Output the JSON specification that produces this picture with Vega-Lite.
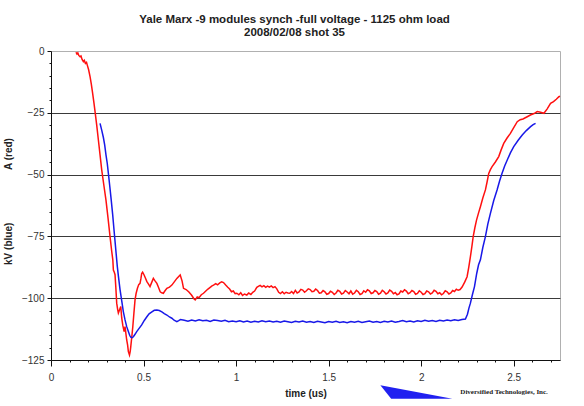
{
  "$schema": "https://vega.github.io/schema/vega-lite/v6.json",
  "autosize": "none",
  "width": 509,
  "height": 309,
  "padding": {"left": 51, "top": 51, "right": 24, "bottom": 46},
  "background": "white",
  "config": {
    "font": "Liberation Sans",
    "view": {"stroke": "#b0b0b0", "strokeWidth": 1},
    "axis": {"labelFont": "Liberation Sans", "titleFont": "Liberation Sans"}
  },
  "title": {
    "text": ["Yale Marx -9 modules synch -full voltage - 1125 ohm load", "2008/02/08 shot 35"],
    "fontSize": 11.5,
    "fontWeight": "bold",
    "color": "#222",
    "lineHeight": 13,
    "offset": 8,
    "anchor": "middle",
    "dx": -11
  },
  "datasets": {
    "red": [
      {"t":0.135,"v":-0.5},{"t":0.14,"v":-1.2},{"t":0.145,"v":-0.8},{"t":0.15,"v":-1.8},{"t":0.157,"v":-2.3},{"t":0.162,"v":-2.0},{"t":0.168,"v":-3.4},{"t":0.175,"v":-4.3},{"t":0.18,"v":-3.8},{"t":0.186,"v":-5.0},{"t":0.192,"v":-4.6},{"t":0.196,"v":-5.7},{"t":0.203,"v":-7.5},{"t":0.211,"v":-10.4},{"t":0.218,"v":-13.5},{"t":0.225,"v":-17.1},{"t":0.232,"v":-21},{"t":0.238,"v":-24.5},{"t":0.247,"v":-30},{"t":0.256,"v":-36},{"t":0.265,"v":-42},{"t":0.274,"v":-48.1},{"t":0.285,"v":-54},{"t":0.297,"v":-60.3},{"t":0.308,"v":-67.5},{"t":0.319,"v":-75.1},{"t":0.328,"v":-81},{"t":0.334,"v":-84.5},{"t":0.337,"v":-88.6},{"t":0.342,"v":-89.5},{"t":0.346,"v":-90.5},{"t":0.35,"v":-95.3},{"t":0.355,"v":-102},{"t":0.36,"v":-104.5},{"t":0.364,"v":-106},{"t":0.37,"v":-104.8},{"t":0.377,"v":-103.4},{"t":0.382,"v":-108},{"t":0.388,"v":-111},{"t":0.395,"v":-113.5},{"t":0.4,"v":-111.5},{"t":0.405,"v":-114.5},{"t":0.409,"v":-116.9},{"t":0.414,"v":-119},{"t":0.418,"v":-121.6},{"t":0.424,"v":-123},{"t":0.428,"v":-121.5},{"t":0.431,"v":-119.6},{"t":0.436,"v":-116},{"t":0.442,"v":-111.5},{"t":0.448,"v":-106},{"t":0.454,"v":-100.7},{"t":0.46,"v":-98},{"t":0.467,"v":-96},{"t":0.474,"v":-94.5},{"t":0.481,"v":-94},{"t":0.486,"v":-92},{"t":0.49,"v":-90},{"t":0.495,"v":-89.5},{"t":0.503,"v":-90.6},{"t":0.51,"v":-91.8},{"t":0.518,"v":-93.3},{"t":0.526,"v":-94.2},{"t":0.535,"v":-95.3},{"t":0.543,"v":-93.8},{"t":0.553,"v":-92},{"t":0.562,"v":-93},{"t":0.572,"v":-94},{"t":0.58,"v":-95.5},{"t":0.59,"v":-97.4},{"t":0.598,"v":-97.8},{"t":0.607,"v":-98},{"t":0.616,"v":-97},{"t":0.626,"v":-96},{"t":0.64,"v":-95.5},{"t":0.653,"v":-94.7},{"t":0.665,"v":-93.5},{"t":0.68,"v":-92},{"t":0.69,"v":-91.2},{"t":0.698,"v":-90.6},{"t":0.708,"v":-93},{"t":0.716,"v":-96},{"t":0.73,"v":-96.5},{"t":0.745,"v":-97.5},{"t":0.76,"v":-98.8},{"t":0.772,"v":-100.2},{"t":0.779,"v":-100.7},{"t":0.79,"v":-99.5},{"t":0.8,"v":-99.8},{"t":0.812,"v":-98.6},{"t":0.824,"v":-98},{"t":0.835,"v":-97.2},{"t":0.848,"v":-96.3},{"t":0.86,"v":-95.6},{"t":0.87,"v":-95},{"t":0.878,"v":-94.7},{"t":0.89,"v":-94.1},{"t":0.9,"v":-94.6},{"t":0.912,"v":-93.8},{"t":0.922,"v":-93.4},{"t":0.932,"v":-93.7},{"t":0.945,"v":-94.8},{"t":0.955,"v":-95.6},{"t":0.965,"v":-96.3},{"t":0.975,"v":-97.4},{"t":0.985,"v":-97.1},{"t":0.995,"v":-98.2},{"t":1.004,"v":-98},{"t":1.015,"v":-98.6},{"t":1.025,"v":-97.8},{"t":1.035,"v":-98.9},{"t":1.045,"v":-98.3},{"t":1.058,"v":-98.7},{"t":1.068,"v":-97.9},{"t":1.08,"v":-98.5},{"t":1.09,"v":-97.6},{"t":1.1,"v":-97.1},{"t":1.112,"v":-95.6},{"t":1.12,"v":-95.2},{"t":1.13,"v":-94.8},{"t":1.14,"v":-95.4},{"t":1.15,"v":-94.9},{"t":1.16,"v":-95.6},{"t":1.17,"v":-95.1},{"t":1.18,"v":-95.5},{"t":1.19,"v":-95},{"t":1.2,"v":-95.7},{"t":1.21,"v":-95.3},{"t":1.22,"v":-96.2},{"t":1.23,"v":-97.6},{"t":1.24,"v":-98.1},{"t":1.25,"v":-97.4},{"t":1.26,"v":-98.2},{"t":1.27,"v":-97.6},{"t":1.28,"v":-97.9},
      {"t":1.29,"v":-98.0},{"t":1.30,"v":-97.3},{"t":1.31,"v":-98.1},{"t":1.32,"v":-96.8},{"t":1.33,"v":-97.9},{"t":1.34,"v":-97.5},{"t":1.35,"v":-96.4},{"t":1.36,"v":-96.7},{"t":1.37,"v":-97.6},{"t":1.38,"v":-97.0},{"t":1.39,"v":-96.2},{"t":1.40,"v":-96.5},{"t":1.41,"v":-97.4},{"t":1.42,"v":-97.2},{"t":1.43,"v":-96.3},{"t":1.44,"v":-96.9},{"t":1.45,"v":-98.0},{"t":1.46,"v":-97.8},{"t":1.47,"v":-96.9},{"t":1.48,"v":-97.4},{"t":1.49,"v":-98.4},{"t":1.50,"v":-98.1},{"t":1.51,"v":-97.2},{"t":1.52,"v":-97.6},{"t":1.53,"v":-98.5},{"t":1.54,"v":-97.9},{"t":1.55,"v":-96.8},{"t":1.56,"v":-97.2},{"t":1.57,"v":-98.3},{"t":1.58,"v":-98.0},{"t":1.59,"v":-96.9},{"t":1.60,"v":-97.5},{"t":1.61,"v":-98.2},{"t":1.62,"v":-97.1},{"t":1.63,"v":-98.4},{"t":1.64,"v":-97.9},{"t":1.65,"v":-96.8},{"t":1.66,"v":-97.4},{"t":1.67,"v":-98.5},{"t":1.68,"v":-98.2},{"t":1.69,"v":-97.0},{"t":1.70,"v":-97.6},{"t":1.71,"v":-96.6},{"t":1.72,"v":-97.0},{"t":1.73,"v":-98.1},{"t":1.74,"v":-97.8},{"t":1.75,"v":-96.9},{"t":1.76,"v":-97.3},{"t":1.77,"v":-98.4},{"t":1.78,"v":-98.0},{"t":1.79,"v":-96.8},{"t":1.80,"v":-97.4},{"t":1.81,"v":-98.3},{"t":1.82,"v":-97.9},{"t":1.83,"v":-96.7},{"t":1.84,"v":-97.2},{"t":1.85,"v":-98.2},{"t":1.86,"v":-97.7},{"t":1.87,"v":-98.6},{"t":1.88,"v":-98.3},{"t":1.89,"v":-97.1},{"t":1.90,"v":-97.5},{"t":1.91,"v":-96.6},{"t":1.92,"v":-97.1},{"t":1.93,"v":-98.2},{"t":1.94,"v":-97.8},{"t":1.95,"v":-96.9},{"t":1.96,"v":-97.3},{"t":1.97,"v":-98.4},{"t":1.98,"v":-98.1},{"t":1.99,"v":-97.0},{"t":2.00,"v":-97.6},{"t":2.01,"v":-98.5},{"t":2.02,"v":-98.2},{"t":2.03,"v":-97.1},{"t":2.04,"v":-97.4},{"t":2.05,"v":-98.3},{"t":2.06,"v":-97.9},{"t":2.07,"v":-96.8},{"t":2.08,"v":-97.2},{"t":2.09,"v":-98.2},{"t":2.10,"v":-97.8},{"t":2.11,"v":-98.6},{"t":2.12,"v":-98.1},{"t":2.13,"v":-97.0},{"t":2.14,"v":-97.4},{"t":2.15,"v":-98.3},{"t":2.16,"v":-97.9},{"t":2.17,"v":-96.9},{"t":2.18,"v":-97.3},{"t":2.19,"v":-96.4},{"t":2.20,"v":-96.8},{"t":2.21,"v":-96.5},
      {"t":2.221,"v":-95.5},{"t":2.235,"v":-93.5},{"t":2.248,"v":-91.3},{"t":2.257,"v":-87.5},{"t":2.266,"v":-83.2},{"t":2.274,"v":-79},{"t":2.281,"v":-75.1},{"t":2.29,"v":-71.5},{"t":2.299,"v":-68.4},{"t":2.31,"v":-65.5},{"t":2.32,"v":-63},{"t":2.333,"v":-59.5},{"t":2.347,"v":-56.2},{"t":2.356,"v":-53},{"t":2.365,"v":-49.5},{"t":2.374,"v":-48},{"t":2.383,"v":-46.8},{"t":2.4,"v":-45},{"t":2.419,"v":-42.7},{"t":2.432,"v":-40},{"t":2.446,"v":-37.4},{"t":2.464,"v":-35.2},{"t":2.482,"v":-33.3},{"t":2.5,"v":-31},{"t":2.519,"v":-28.6},{"t":2.535,"v":-27.8},{"t":2.55,"v":-27.5},{"t":2.573,"v":-26.6},{"t":2.59,"v":-25.9},{"t":2.61,"v":-25.3},{"t":2.627,"v":-24.5},{"t":2.645,"v":-24.8},{"t":2.663,"v":-25.2},{"t":2.68,"v":-23.5},{"t":2.699,"v":-21.2},{"t":2.715,"v":-20.5},{"t":2.73,"v":-19.5},{"t":2.744,"v":-18.5},{"t":2.75,"v":-18.3}
    ],
    "blue": [
      {"t":0.265,"v":-29.3},{"t":0.274,"v":-32},{"t":0.283,"v":-35},{"t":0.29,"v":-38},{"t":0.297,"v":-42},{"t":0.304,"v":-45.5},{"t":0.31,"v":-49.5},{"t":0.318,"v":-55},{"t":0.325,"v":-60},{"t":0.333,"v":-66},{"t":0.34,"v":-72},{"t":0.346,"v":-77},{"t":0.352,"v":-82},{"t":0.358,"v":-87},{"t":0.364,"v":-91},{"t":0.373,"v":-96.5},{"t":0.382,"v":-101},{"t":0.391,"v":-105.5},{"t":0.4,"v":-108.8},{"t":0.409,"v":-111.5},{"t":0.418,"v":-113.5},{"t":0.425,"v":-115},{"t":0.431,"v":-115.8},{"t":0.438,"v":-116},{"t":0.445,"v":-115.6},{"t":0.454,"v":-114.6},{"t":0.463,"v":-113.5},{"t":0.476,"v":-112.2},{"t":0.49,"v":-110.8},{"t":0.504,"v":-109},{"t":0.518,"v":-107.5},{"t":0.53,"v":-106.3},{"t":0.545,"v":-105.5},{"t":0.558,"v":-104.9},{"t":0.572,"v":-104.8},{"t":0.585,"v":-105},{"t":0.599,"v":-105.5},{"t":0.612,"v":-106.2},{"t":0.626,"v":-106.8},{"t":0.64,"v":-107.6},{"t":0.653,"v":-108.1},{"t":0.665,"v":-108.9},{"t":0.68,"v":-109.5},{"t":0.69,"v":-109.1},{"t":0.70,"v":-108.6},{"t":0.72,"v":-108.9},{"t":0.74,"v":-109.3},{"t":0.76,"v":-108.8},{"t":0.78,"v":-109.2},{"t":0.80,"v":-108.7},{"t":0.82,"v":-109.1},{"t":0.84,"v":-108.9},{"t":0.86,"v":-109.4},{"t":0.88,"v":-108.8},{"t":0.90,"v":-109.0},{"t":0.92,"v":-109.3},{"t":0.94,"v":-108.9},{"t":0.96,"v":-109.5},{"t":0.98,"v":-109.2},{"t":1.00,"v":-109.5},{"t":1.02,"v":-109.1},{"t":1.04,"v":-109.6},{"t":1.06,"v":-109.2},{"t":1.08,"v":-109.7},{"t":1.10,"v":-109.3},{"t":1.12,"v":-109.6},{"t":1.14,"v":-109.1},{"t":1.16,"v":-109.5},{"t":1.18,"v":-109.2},{"t":1.20,"v":-109.6},{"t":1.22,"v":-109.3},{"t":1.24,"v":-109.7},{"t":1.26,"v":-109.2},{"t":1.28,"v":-109.5},{"t":1.30,"v":-109.8},{"t":1.32,"v":-109.3},{"t":1.34,"v":-109.6},{"t":1.36,"v":-109.2},{"t":1.38,"v":-109.7},{"t":1.40,"v":-109.4},{"t":1.42,"v":-109.8},{"t":1.44,"v":-109.3},{"t":1.46,"v":-109.6},{"t":1.48,"v":-109.9},{"t":1.50,"v":-109.4},{"t":1.52,"v":-109.7},{"t":1.54,"v":-109.3},{"t":1.56,"v":-109.8},{"t":1.58,"v":-109.5},{"t":1.60,"v":-109.9},{"t":1.62,"v":-109.4},{"t":1.64,"v":-109.7},{"t":1.66,"v":-109.3},{"t":1.68,"v":-109.8},{"t":1.70,"v":-109.5},{"t":1.72,"v":-109.2},{"t":1.74,"v":-109.7},{"t":1.76,"v":-109.4},{"t":1.78,"v":-109.8},{"t":1.80,"v":-109.3},{"t":1.82,"v":-109.6},{"t":1.84,"v":-109.2},{"t":1.86,"v":-109.7},{"t":1.88,"v":-109.4},{"t":1.90,"v":-109.0},{"t":1.92,"v":-109.5},{"t":1.94,"v":-109.2},{"t":1.96,"v":-109.6},{"t":1.98,"v":-109.1},{"t":2.00,"v":-109.4},{"t":2.02,"v":-108.9},{"t":2.04,"v":-109.3},{"t":2.06,"v":-109.0},{"t":2.08,"v":-109.4},{"t":2.10,"v":-108.9},{"t":2.12,"v":-109.2},{"t":2.14,"v":-108.8},{"t":2.16,"v":-109.1},{"t":2.18,"v":-108.7},{"t":2.20,"v":-109.0},{"t":2.22,"v":-108.6},{"t":2.239,"v":-108.4},{"t":2.25,"v":-106.5},{"t":2.258,"v":-104},{"t":2.266,"v":-102},{"t":2.277,"v":-98.5},{"t":2.288,"v":-95.3},{"t":2.30,"v":-90},{"t":2.31,"v":-86.5},{"t":2.32,"v":-84.5},{"t":2.333,"v":-79.5},{"t":2.347,"v":-75.1},{"t":2.36,"v":-70},{"t":2.374,"v":-65.7},{"t":2.392,"v":-60.5},{"t":2.41,"v":-56.2},{"t":2.424,"v":-52.5},{"t":2.437,"v":-49.5},{"t":2.451,"v":-46.5},{"t":2.465,"v":-44.1},{"t":2.482,"v":-41.2},{"t":2.5,"v":-38.7},{"t":2.523,"v":-36.2},{"t":2.546,"v":-34},{"t":2.568,"v":-32.2},{"t":2.591,"v":-30.6},{"t":2.605,"v":-29.8},{"t":2.618,"v":-29.3}
    ],
    "logo": [
      {"t": 1.974, "v": -138.1, "label": "Diversified Technologies, Inc."}
    ]
  },
  "encoding": {
    "x": {
      "field": "t",
      "type": "quantitative",
      "scale": {"domain": [0, 2.75], "nice": false, "zero": false},
      "axis": {
        "title": "time (us)",
        "titleFontSize": 10,
        "titleFontWeight": "bold",
        "titleColor": "#222",
        "titlePadding": 6,
        "values": [0,0.1,0.2,0.3,0.4,0.5,0.6,0.7,0.8,0.9,1,1.1,1.2,1.3,1.4,1.5,1.6,1.7,1.8,1.9,2,2.1,2.2,2.3,2.4,2.5,2.6,2.7],
        "format": "~g",
        "labelExpr": "abs(datum.value*2 - round(datum.value*2)) < 0.001 ? datum.label : ''",
        "labelFontSize": 10,
        "labelColor": "#333",
        "labelPadding": 6,
        "labelFlush": false,
        "tickSize": {"condition": {"test": "abs(datum.value*2 - round(datum.value*2)) < 0.001", "value": 6}, "value": 2},
        "tickColor": "#111",
        "domainColor": "#111",
        "grid": false
      }
    },
    "y": {
      "field": "v",
      "type": "quantitative",
      "scale": {"domain": [-125, 0], "nice": false, "zero": false},
      "axis": {
        "title": "kV (blue)\u00a0\u00a0\u00a0\u00a0\u00a0\u00a0\u00a0\u00a0\u00a0\u00a0\u00a0\u00a0\u00a0\u00a0\u00a0\u00a0\u00a0\u00a0\u00a0A (red)",
        "titleFontSize": 10,
        "titleFontWeight": "bold",
        "titleColor": "#222",
        "titlePadding": 8,
        "titleY": 150,
        "values": [-125,-120,-115,-110,-105,-100,-95,-90,-85,-80,-75,-70,-65,-60,-55,-50,-45,-40,-35,-30,-25,-20,-15,-10,-5,0],
        "labelExpr": "datum.value % 25 === 0 ? datum.label : ''",
        "labelFontSize": 10,
        "labelColor": "#333",
        "labelPadding": 3,
        "labelFlush": false,
        "tickSize": {"condition": {"test": "datum.value % 25 === 0", "value": 4}, "value": 2},
        "tickColor": "#111",
        "domainColor": "#111",
        "grid": true,
        "gridColor": "#3a3a3a",
        "gridWidth": 1,
        "gridOpacity": {"condition": {"test": "datum.value % 25 === 0 && datum.value > -125 && datum.value < 0", "value": 1}, "value": 0}
      }
    }
  },
  "layer": [
    {
      "data": {"name": "red"},
      "mark": {"type": "line", "color": "#ff1010", "strokeWidth": 1.5, "clip": false}
    },
    {
      "data": {"name": "blue"},
      "mark": {"type": "line", "color": "#1818e8", "strokeWidth": 1.5, "clip": false}
    },
    {
      "data": {"name": "logo"},
      "mark": {"type": "point", "shape": "M -1 -0.2 L 1 0.18 L -0.7 0.18 Z", "size": 5184, "filled": true, "color": "#2020f0", "opacity": 1, "clip": false}
    },
    {
      "data": {"name": "logo"},
      "mark": {"type": "text", "align": "left", "baseline": "middle", "dx": 44, "dy": 0, "font": "Liberation Serif", "fontWeight": "bold", "fontSize": 7, "color": "#222", "clip": false},
      "encoding": {"text": {"field": "label"}}
    }
  ]
}
